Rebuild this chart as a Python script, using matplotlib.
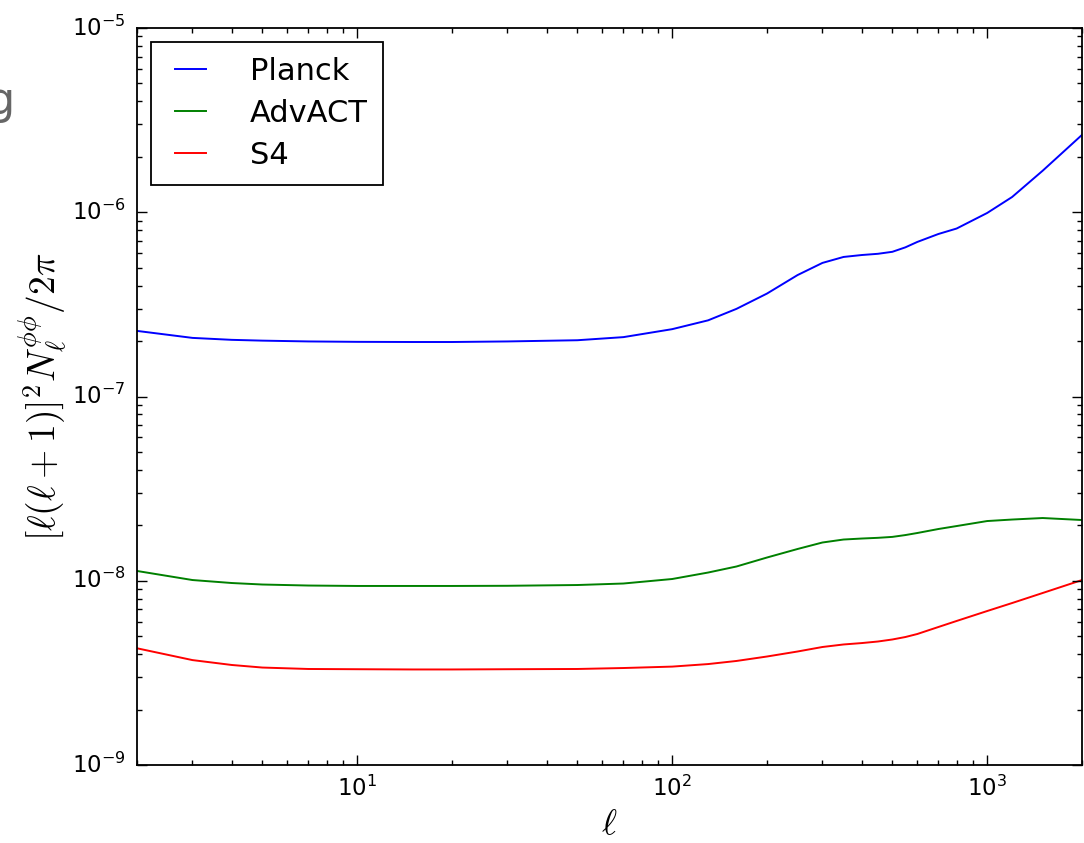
import matplotlib
matplotlib.use('Agg')
import matplotlib.pyplot as plt

# multipoles ell
ell = [2, 3, 4, 5, 7, 10, 15, 20, 30, 50, 70, 100, 130, 160, 200, 250, 300,
       350, 400, 450, 500, 550, 600, 700, 800, 1000, 1200, 1500, 2000]

# lensing reconstruction noise [l(l+1)]^2 N_l^{phiphi} / 2pi
planck = [2.27e-7, 2.08e-7, 2.03e-7, 2.01e-7, 1.99e-7, 1.98e-7, 1.976e-7, 1.976e-7,
          1.99e-7, 2.02e-7, 2.10e-7, 2.32e-7, 2.59e-7, 2.99e-7, 3.62e-7, 4.56e-7,
          5.31e-7, 5.72e-7, 5.86e-7, 5.95e-7, 6.10e-7, 6.45e-7, 6.90e-7, 7.62e-7,
          8.16e-7, 9.91e-7, 1.21e-6, 1.68e-6, 2.63e-6]
advact = [1.13e-8, 1.009e-8, 9.72e-9, 9.54e-9, 9.42e-9, 9.37e-9, 9.37e-9, 9.37e-9,
          9.39e-9, 9.48e-9, 9.66e-9, 1.022e-8, 1.108e-8, 1.195e-8, 1.337e-8, 1.487e-8,
          1.613e-8, 1.674e-8, 1.695e-8, 1.71e-8, 1.73e-8, 1.77e-8, 1.816e-8, 1.909e-8,
          1.981e-8, 2.109e-8, 2.149e-8, 2.19e-8, 2.136e-8]
s4 = [4.30e-9, 3.71e-9, 3.49e-9, 3.38e-9, 3.32e-9, 3.31e-9, 3.30e-9, 3.30e-9,
      3.31e-9, 3.32e-9, 3.36e-9, 3.42e-9, 3.53e-9, 3.67e-9, 3.88e-9, 4.13e-9,
      4.37e-9, 4.51e-9, 4.59e-9, 4.68e-9, 4.80e-9, 4.95e-9, 5.14e-9, 5.61e-9,
      6.05e-9, 6.85e-9, 7.57e-9, 8.58e-9, 1.009e-8]

plt.style.use('classic')
plt.rcParams['figure.facecolor'] = 'white'
plt.rcParams['savefig.facecolor'] = 'white'
plt.rcParams['mathtext.fontset'] = 'cm'

fig = plt.figure(figsize=(10.84, 8.43), dpi=100)
ax = fig.add_axes([137 / 1084, 78 / 843, 945 / 1084, 737 / 843])

ax.loglog(ell, planck, color='b', lw=1.4, label='Planck')
ax.loglog(ell, advact, color='g', lw=1.4, label='AdvACT')
ax.loglog(ell, s4, color='r', lw=1.4, label='S4')

ax.set_xlim(2, 2000)
ax.set_ylim(1e-9, 1e-5)

ax.set_xlabel(r'$\ell$', fontsize=26, labelpad=4)
ax.set_ylabel(r'$[\ell(\ell+1)]^2N_\ell^{\phi\phi}/2\pi$', fontsize=27, labelpad=2)

ax.tick_params(which='major', length=7, width=1, labelsize=16.5, pad=8)
ax.tick_params(which='minor', length=3.5, width=1)
for s in ax.spines.values():
    s.set_linewidth(1.3)

leg = ax.legend(loc='upper left', fontsize=22, labelspacing=0.42, handlelength=1.6,
                handletextpad=1.15, borderpad=0.5, borderaxespad=0.45, fancybox=False)
leg.get_frame().set_linewidth(1.3)
leg.get_frame().set_edgecolor('black')

# bit of slide text cut off at the left edge
fig.text(-0.012, 0.88, 'g', fontsize=32, color='#666666', ha='left', va='center')

plt.savefig('out.png', dpi=100)
